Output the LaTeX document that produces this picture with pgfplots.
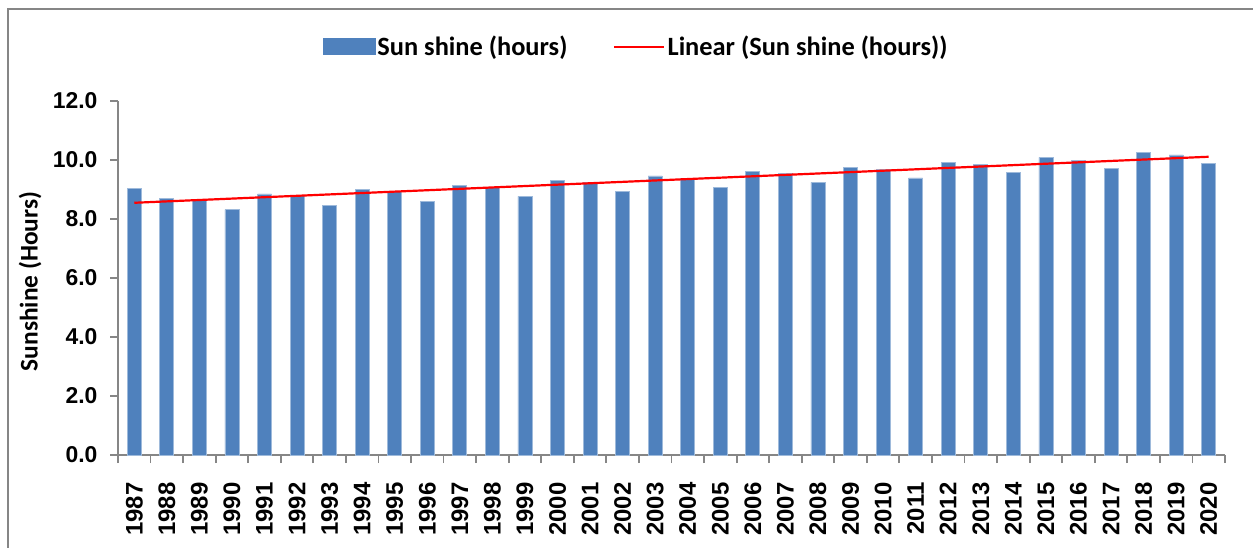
\documentclass[border=0pt]{standalone}
\usepackage{fontspec}
\setmainfont{Carlito}
\newfontfamily\arialb{Liberation Sans}
\usepackage{pgfplots}
\pgfplotsset{compat=1.18}
\definecolor{barblue}{HTML}{4F81BD}
\definecolor{axgray}{HTML}{868686}
\begin{document}
\begin{tikzpicture}
\useasboundingbox (0,0) rectangle (1253bp,-548bp);
\draw[axgray, line width=2bp] (8bp,-548bp) -- (8bp,-9bp) -- (1253bp,-9bp);
\begin{axis}[
  at={(118bp,-455bp)}, anchor=south west,
  scale only axis, width=1107bp, height=354bp,
  xmin=-0.5, xmax=33.5, ymin=0, ymax=12,
  axis lines*=left,
  axis line style={axgray, line width=1.8bp},
  ytick={0,2,...,12},
  yticklabel style={/pgf/number format/fixed, /pgf/number format/precision=1, /pgf/number format/fixed zerofill, font=\arialb\bfseries\fontsize{23}{23}\selectfont, xshift=-9bp},
  /pgf/number format/assume math mode=true,
  xtick={0,...,33},
  xticklabels={1987,1988,1989,1990,1991,1992,1993,1994,1995,1996,1997,1998,1999,2000,2001,2002,2003,2004,2005,2006,2007,2008,2009,2010,2011,2012,2013,2014,2015,2016,2017,2018,2019,2020},
  xticklabel style={font=\arialb\bfseries\fontsize{24}{24}\selectfont, yshift=-16bp, rotate=90, anchor=east},
  minor xtick={-0.5,0.5,...,33.5},
  tick align=outside,
  major x tick style={draw=none},
  minor tick length=8bp, major tick length=8bp,
  tick style={axgray, line width=1.8bp},
  ylabel={\bfseries Sunshine (Hours)},
  ylabel style={at={(axis description cs:-0.0795,0.49)}, anchor=center, font=\bfseries\fontsize{25.5}{25.5}\selectfont},
  legend columns=2,
  legend style={at={(axis description cs:0.468,1.153)}, anchor=center, draw=none, fill=none, font=\bfseries\fontsize{26.5}{26.5}\selectfont, /tikz/every even column/.append style={column sep=44bp}, inner sep=0pt},
]
\addplot[ybar, bar width=14bp, fill=barblue, draw=barblue!55!white, line width=0.8bp,
  legend image code/.code={\fill[barblue] (0bp,-8bp) rectangle (52bp,8bp);}]
coordinates {
(0,9.04) (1,8.70) (2,8.67) (3,8.32) (4,8.85) (5,8.80) (6,8.46) (7,9.00) (8,8.93) (9,8.61)
(10,9.15) (11,9.07) (12,8.77) (13,9.31) (14,9.23) (15,8.92) (16,9.46) (17,9.38) (18,9.07) (19,9.62)
(20,9.53) (21,9.24) (22,9.76) (23,9.68) (24,9.39) (25,9.93) (26,9.86) (27,9.57) (28,10.09) (29,10.00)
(30,9.72) (31,10.26) (32,10.17) (33,9.89)
};
\addlegendentry{Sun shine (hours)}
\addplot[red, line width=2.2bp,
  legend image code/.code={\draw[red, line width=2.2bp] (0bp,0bp) -- (50bp,0bp);}]
coordinates {(0,8.55) (33,10.11)};
\addlegendentry{Linear (Sun shine (hours))}
\end{axis}
\end{tikzpicture}
\end{document}
